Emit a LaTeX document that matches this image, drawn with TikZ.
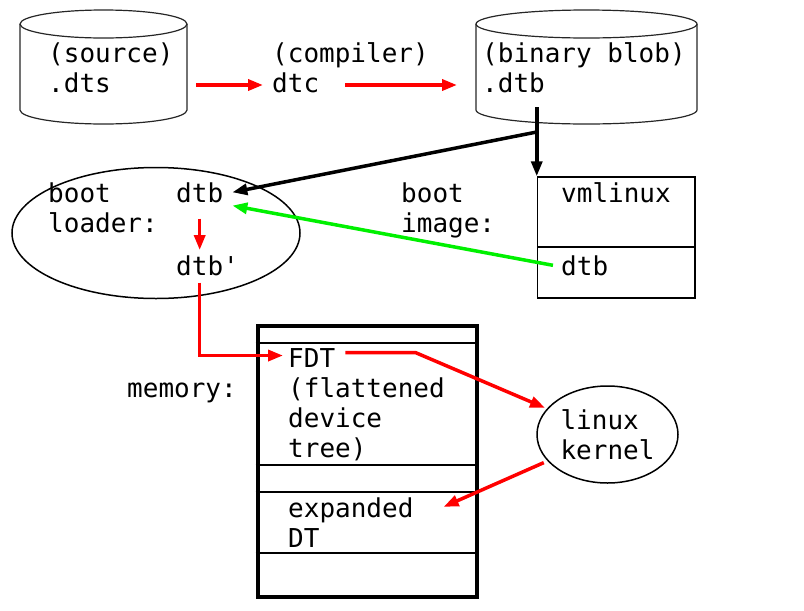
\documentclass[tikz,border=0pt]{standalone}
\usepackage{fontspec}
\usepackage{tikz}
\usepackage{xcolor}
\usetikzlibrary{shapes, positioning, arrows.meta}

\newfontfamily\dtmono{DejaVu Sans Mono}
\definecolor{flowred}{RGB}{255,0,0}
\definecolor{flowgreen}{RGB}{0,240,0}

\tikzset{
    lbl/.style={anchor=base west, inner sep=0pt, font=\dtmono\fontsize{26}{30}\selectfont},
    disk/.style={draw=black!85, line width=1.2pt},
    redflow/.style={->, color=flowred, line width=3.5pt},
    greenflow/.style={->, color=flowgreen, line width=3.5pt},
    blackflow/.style={->, color=black, line width=3.5pt},
    divider/.style={line width=1.5pt}
}

\begin{document}
\begin{tikzpicture}[x=1pt, y=-1pt, >={Triangle[length=15pt, width=11pt]}]
        \useasboundingbox (0,0) rectangle (804,611);

        % disks
        \draw[disk] (20,24) -- (20,110) arc[start angle=180, end angle=360, x radius=83.5pt, y radius=14pt] -- (187,24);
        \draw[disk] (103.5,24) ellipse [x radius=83.5pt, y radius=14pt];
        \draw[disk] (476,24) -- (476,110) arc[start angle=180, end angle=360, x radius=110.5pt, y radius=14pt] -- (697,24);
        \draw[disk] (586.5,24) ellipse [x radius=110.5pt, y radius=14pt];

        \node[lbl] (srcA) at (48,62) {(source)};
        \node[lbl] (dts) at (48,92) {.dts};
        \node[lbl] (compA) at (272,62) {(compiler)};
        \node[lbl] (dtc) at (272,92) {dtc};
        \node[lbl] (binA) at (482,62) {(binary blob)};
        \node[lbl] (dtbfile) at (482,92) {.dtb};

        % boot loader
        \node[draw, ellipse, line width=1.5pt, inner sep=0pt, minimum width=288pt, minimum height=131pt] (loader) at (156,233) {};
        \node[lbl, align=left] (bootA) at (48,232) {boot\\loader:};
        \node[lbl] (ldtb) at (176,202) {dtb};
        \node[lbl] (ldtbp) at (176,275) {dtb\textquotesingle};

        % boot image
        \node[lbl, align=left] (imgA) at (401,232) {boot\\image:};
        \node[draw, line width=1.5pt, minimum width=157.5pt, minimum height=121pt] (vmbox) at (616.25,237.5) {};
        \draw[divider] (vmbox.west |- 0,247) -- (vmbox.east |- 0,247);
        \node[lbl] (vmlinux) at (561,202) {vmlinux};
        \node[lbl] (kdtb) at (561,275) {dtb};

        % memory
        \node[draw, line width=4pt, minimum width=219pt, minimum height=271pt] (membox) at (367,461) {};
        \foreach \y in {343,465,492,553}
            \draw[divider] (membox.west |- 0,\y) -- (membox.east |- 0,\y);
        \node[lbl] (memory) at (127,397) {memory:};
        \node[lbl] (fdt) at (288,367) {FDT};
        \node[lbl, align=left] (flat) at (288,457) {(flattened\\device\\tree)};
        \node[lbl] (expanded) at (288,517) {expanded};
        \node[lbl] (dt) at (288,547) {DT};

        \node[draw, ellipse, line width=1.5pt, inner sep=0pt, minimum width=141pt, minimum height=97pt, align=left, font=\dtmono\fontsize{26}{30}\selectfont] (kernel) at (607.5,434.5) {linux\\kernel};

        % flow
        \draw[redflow, shorten <=85pt, shorten >=9pt] ([yshift=7pt]dts.base east) -- ([yshift=7pt]dtc.base west);
        \draw[redflow, shorten <=26pt, shorten >=25pt] ([yshift=7pt]dtc.base east) -- ([yshift=7pt]dtbfile.base west);
        \draw[blackflow] ([yshift=-15pt]dtbfile.base east -| vmbox.north west) -- (vmbox.north west);
        \coordinate (fork) at ([yshift=-40pt]dtbfile.base east -| vmbox.north west);
        \draw[blackflow] (fork) -- ([xshift=9pt]ldtb.east);
        \draw[greenflow] ([xshift=-8pt]kdtb.west) -- ([shift={(9pt,-3pt)}]ldtb.south east);
        \draw[redflow, shorten <=16pt, shorten >=5pt] (ldtb.south) -- (ldtb.south |- ldtbp.north);
        \draw[redflow, shorten >=5pt] ([yshift=-7pt]ldtbp.south -| ldtb.south) |- ([yshift=2pt]fdt.west);
        \draw[redflow, shorten >=2pt] ([shift={(10pt,5pt)}]fdt.east) -- ++(70,0) -- (kernel);
        \draw[redflow, shorten <=4pt] (kernel) -- ([shift={(30pt,3pt)}]expanded.east);
    \end{tikzpicture}
\end{document}
